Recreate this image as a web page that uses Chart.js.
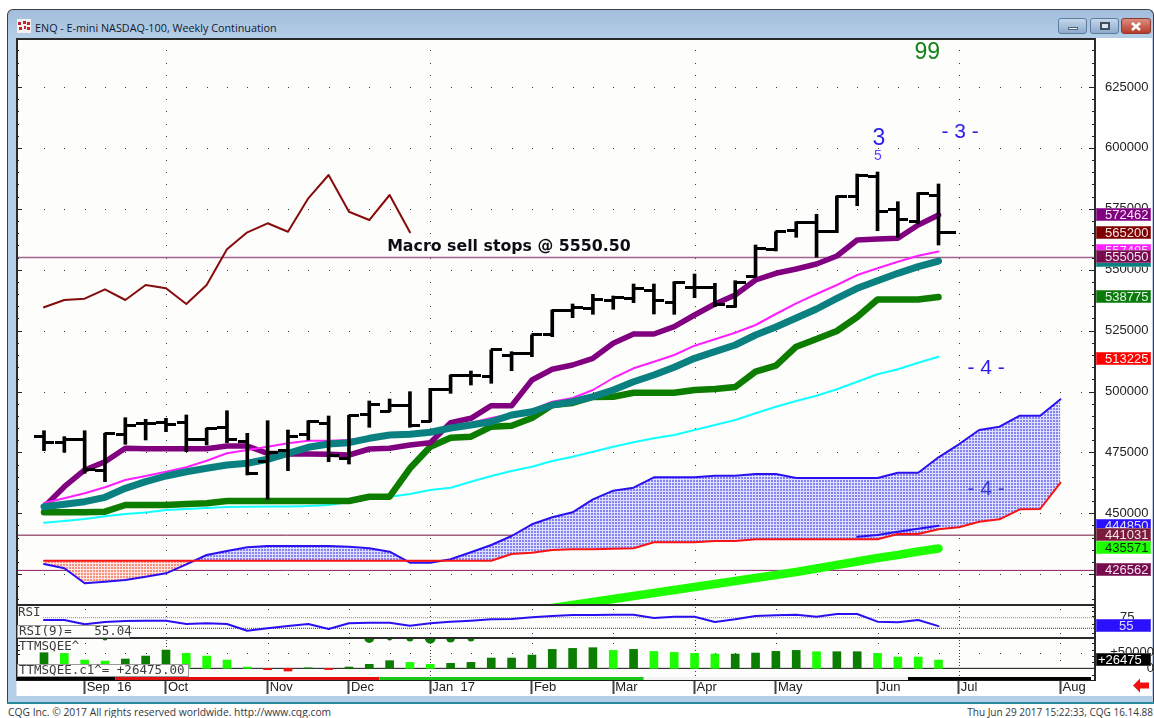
<!DOCTYPE html>
<html>
<head>
<meta charset="utf-8">
<title>ENQ - E-mini NASDAQ-100, Weekly Continuation</title>
<script src="https://cdn.jsdelivr.net/npm/chart.js@4"></script>
<style>
html,body{margin:0;padding:0;width:1154px;height:718px;background:#fff;overflow:hidden}
#frame{position:absolute;left:7px;top:9px;width:1147px;height:693px;box-sizing:border-box;border:1px solid #3a3f44;border-bottom:none;border-radius:6px 6px 0 0;background:linear-gradient(#a2bedb 0,#b6cfe9 30px,#b6cfe9 100%)}
#teal{position:absolute;left:7px;top:702px;width:1147px;height:2px;background:#2b8a9c}
#inner{position:absolute;left:16px;top:38px;width:1135px;height:658px;background:#fff;border-left:1px solid #dfe8f2}
#title{position:absolute;left:35px;top:20px;font:10.8px "Open Sans",sans-serif;color:#14182a;white-space:nowrap}
.btn{position:absolute;top:18px;height:16px;box-sizing:border-box;border:1px solid #5e7c9f;border-radius:3px;background:linear-gradient(#c4d6ea,#8eabcb)}
.foot{position:absolute;top:705px;color:#33383e;white-space:nowrap}
canvas{position:absolute;left:0;top:0}
</style>
</head>
<body>
<div id="frame"></div>
<div id="inner"></div>
<div id="teal"></div>
<svg style="position:absolute;left:17px;top:19px" width="14" height="14"><rect width="14" height="14" fill="#f4f0f0"/><g fill="#c3232b"><rect x="1" y="3" width="3" height="3"/><rect x="6" y="2" width="3" height="3"/><rect x="10" y="3" width="3" height="3"/><rect x="2" y="8" width="3" height="3"/><rect x="7" y="7" width="2" height="3"/><rect x="10" y="8" width="3" height="3"/></g></svg>
<div id="title">ENQ - E-mini NASDAQ-100, Weekly Continuation</div>
<div class="btn" style="left:1058px;width:29px"><div style="position:absolute;left:9px;top:8px;width:10px;height:3px;background:#eef3f8;border:1px solid #50647c;box-sizing:border-box"></div></div>
<div class="btn" style="left:1090px;width:29px"><div style="position:absolute;left:9px;top:3px;width:10px;height:8px;border:2px solid #3f4e60;box-sizing:border-box;background:#dbe6f1"></div></div>
<div class="btn" style="left:1121px;width:30px;border-color:#8a3a30;background:linear-gradient(#dd8d80,#b63b2a)"><svg width="28" height="14" style="position:absolute;left:0;top:0"><path d="M10 4L18 11M18 4L10 11" stroke="#fff" stroke-width="2.6"/></svg></div>
<svg style="position:absolute;left:1133px;top:678px;z-index:3" width="18" height="15"><path d="M0 7.5L7 0.5V4.5H16V10.5H7V14.5Z" fill="#f01010"/></svg>
<div class="foot" style="left:8px;font:10.3px 'Open Sans',sans-serif">CQG Inc. © 2017 All rights reserved worldwide. http://www.cqg.com</div>
<div class="foot" style="right:1px;font:10px 'Open Sans',sans-serif">Thu Jun 29 2017 15:22:33, CQG 16.14.88</div>
<canvas id="c" width="1154" height="718"></canvas>
<script>
// ---------- data ----------
const weekIndex = [0,1,2,3,4,5,6,7,8,9,10,11,12,13,14,15,16,17,18,19,20,21,22,23,24,25,26,27,28,29,30,31,32,33,34,35,36,37,38,39,40,41,42,43,44,45,46,47,48,49,50];
const monthTickIndex = [2,6,11,15,19,24,28,32,36,41,45,50];
const monthTickLabels = ['Sep  16','Oct','Nov','Dec','Jan  17','Feb','Mar','Apr','May','Jun','Jul','Aug'];
const priceLabels = [625000,600000,575000,550000,525000,500000,475000,450000];

const highs = [483900,481450,483900,482840,489250,488590,489000,490360,484900,492120,482840,488020,484200,488020,489950,490230,496100,496920,499920,501300,506775,508420,517040,516340,523200,533460,535920,539900,539200,544130,544130,545075,548240,544420,545490,560140,565600,569700,572740,580255,589285,590105,577915,581610,585180];
const lows = [475700,475050,466420,462975,478330,480090,483500,475290,478040,478985,465725,455750,467490,480090,471185,470240,485300,491710,485300,487600,499260,502670,503370,508540,514290,522500,530300,531690,533750,536455,531820,531690,538510,534810,534570,547130,557680,563300,555090,565190,576270,566010,563300,568760,560140];
const opens = [481450,479150,480380,467490,482150,486950,487360,487200,480500,485300,479680,471470,475700,482150,486950,472580,490360,491710,494460,487600,500620,506490,506365,514985,515680,523200,533050,534160,537560,538260,541260,536620,542780,542780,535100,547415,558375,566010,569460,565600,579970,588180,574510,569700,580665];
const closes = [478985,480380,467780,482840,486250,486950,486540,480500,484900,480500,466140,474880,481735,487600,473935,489950,494870,494460,486250,500900,506775,506490,517040,515680,523200,533170,534570,537850,538510,542370,537560,544830,542780,535920,544665,558500,565600,569295,565600,579970,588875,573810,570690,581360,565200];

const purpleLine = [452590,460920,467780,471185,476690,476520,476520,476520,476520,477630,477630,474630,474350,474350,474220,473935,476400,476690,478040,478985,487200,489000,494170,494170,504725,509115,510880,513630,519790,523605,523605,526600,531405,535920,539615,545775,548520,550290,552340,555625,562190,562600,562890,568350,572462];
const magentaLine = [454230,456160,458215,460675,463675,465315,467080,468885,471595,474630,475990,477345,478740,479805,479805,480090,481325,482145,482555,483790,485555,487200,489125,490765,492410,495815,497335,500620,505545,509525,512235,514985,518805,521430,524140,527300,531815,536210,540025,543720,547825,550575,553285,555750,557485];
const tealLine = [452715,453700,454765,456570,460265,462975,465315,467080,468475,469830,470530,472170,474630,477095,478450,478985,480790,482145,482430,483255,485020,486250,487605,490355,491710,494460,495815,497870,500620,504025,506775,509935,513630,516340,519090,523195,526480,530175,533870,538260,542365,545485,548525,551235,553570];
const greenLine = [450415,450415,450415,450660,453410,453410,453410,453820,454110,455050,455050,455050,455050,455050,455050,455050,456820,456820,468475,477345,481035,481450,485555,485965,489125,494460,495280,497745,497870,499510,499510,499510,500620,501030,501850,508130,510595,518395,521555,524835,530585,537770,537770,537770,538775];
const cyanLine = [446145,446840,447665,448770,449715,450330,451360,451770,452180,452590,452715,452795,452795,453000,453410,454640,456080,456820,457925,459570,460510,462975,465315,467365,469135,471470,473240,475290,477345,479150,480790,482145,484200,486250,488305,491050,493760,496100,498280,500905,504025,507060,509115,511825,514290];
const darkRedLine = [534570,537560,538100,541950,537560,543720,542370,535920,543720,558375,565350,569050,565600,579310,588875,573810,570400,580665,565350];
const limeLine = [411130,412360,413590,414820,416050,417280,418510,419740,420970,422200,423440,424670,425900,427340,428780,430210,431650,432880,434320,435571];
const limeStart = 25;
const cloudUpper = [429190,427425,421270,421925,422625,423980,425375,429070,432885,434530,436045,436580,436580,436580,436580,436290,435635,434240,429725,429725,431120,433995,436990,440685,445490,448360,450415,455750,459280,460510,464780,464780,464780,465440,465440,466135,466135,464495,464495,464495,464495,464495,466670,466670,472990,478330,484200,485555,490070,490070,496800];
const cloudLower = [430545,430545,430545,430545,430545,430545,430545,430545,430545,430545,430545,430545,430545,430545,430545,430545,430545,430545,430545,430545,430545,430545,430545,433295,433830,434940,435225,435225,435470,435635,438100,438100,438100,438630,438630,439330,439330,439330,439330,439330,439330,439330,441505,441505,443435,444255,446555,447540,451645,451770,462565];
const laggingBlue = [440400,441095,442450,443680,444850];
const laggingStart = 40;
const stopLevels = [555050,441031,426562];

const rsiValues = [69.6,69.6,59.4,64.9,67.2,67.9,67.9,60.1,61.8,60.1,44.3,50,55.4,60.1,48.4,61.8,63.2,63.2,56.1,61.8,65.6,67.9,71.2,71.9,75.9,79,81.4,81.4,82.1,82.1,74.3,77.4,77.4,64.9,71.2,79,80.7,82.1,77.4,83.7,83.7,65.6,64.2,69.6,55.04];
const rsiLevels = [75,50];

const ttmValues = [50000,47900,26600,23400,29800,39300,58500,47900,39300,26600,4250,-4300,-8500,1600,-4000,4250,12800,24500,19100,12800,16000,19100,33000,33000,42500,60600,63800,66000,57400,60600,54200,51000,47900,45700,45700,48900,54200,57400,53200,53200,53200,47900,36200,36200,26475];
const ttmShades = ['d','l','l','l','d','d','d','l','l','l','l','r','r','d','r','d','d','d','l','l','d','d','d','d','d','d','d','d','l','d','l','l','l','l','d','d','d','d','l','d','d','l','l','l','l'];
const squeezeIndex = [2,3,16,17,18,19,20,21];
const squeezeSize = [1,2.5,5,2.5,3.5,5.5,4.5,3.5];
const stripStates = [[-1.33,3.5,'#000000'],[3.5,16.5,'#e01010'],[16.5,29.5,'#1cc81c'],[29.5,42.5,'#f4f4f4'],[42.5,51.5,'#000000']];

const priceTags = [
  ['444850',444850,'#2a10ff','#dfe0ff'],['441031',441031,'#7a1a3c','#f2e6e6'],['435571',435571,'#1dff00','#0a2a0a'],
  ['426562',426562,'#780a50','#f2e6ee'],['513225',513225,'#ff0000','#ffeeee'],['538775',538775,'#0a7a0a','#e8f5e8'],
  ['557485',557485,'#ff20ff','#ffe8ff'],['',553570,'#0a8080','#e8f5f5'],['555050',555050,'#780a50','#f2e6ee'],
  ['565200',565200,'#800000','#f5e6e6'],['572462',572462,'#800080','#f5e6f5']
];

// ---------- helpers ----------
const pts = (arr, start) => arr.map((v, i) => ({x: weekIndex[i + (start || 0)], y: v}));
const xMin = -1.328, xMax = 51.697;
const flat = (v, from) => [{x: from === undefined ? xMin : from, y: v}, {x: xMax, y: v}];

function tick(left, len) {
  const c = document.createElement('canvas');
  c.width = len * 2 + 1; c.height = 3;
  const g = c.getContext('2d');
  g.fillStyle = '#000';
  if (left) g.fillRect(0, 0, len + 1, 3); else g.fillRect(len, 0, len + 1, 3);
  return c;
}
const openTick = tick(true, 9), closeTick = tick(false, 10), lastTick = tick(false, 17);

function hatch(dark, light) {
  const c = document.createElement('canvas');
  c.width = 3; c.height = 3;
  const g = c.getContext('2d');
  g.fillStyle = dark; g.fillRect(0, 0, 3, 3);
  g.fillStyle = light; g.fillRect(2, 0, 1, 3); g.fillRect(0, 2, 3, 1);
  return g.createPattern(c, 'repeat');
}
const blueHatch = hatch('#8684f0', '#dedeff');
const redHatch = hatch('#f6907f', '#ffe6e0');

const lineDs = (label, data, color, width, order, extra) => Object.assign({
  type: 'line', label, data, borderColor: color, borderWidth: width, order,
  pointRadius: 0, tension: 0, fill: false, borderJoinStyle: 'round', borderCapStyle: 'round'
}, extra || {});

const ttmColor = {d: '#0b7d00', l: '#1dff00', r: '#f01010'};

// ---------- plugin: background, dots, frame, tags, text ----------
const decor = {
  id: 'decor',
  beforeDraw(chart) {
    const {ctx, chartArea: a} = chart;
    ctx.save();
    ctx.fillStyle = '#fdfdfb';
    ctx.fillRect(a.left, a.top, a.right - a.left, a.bottom - a.top);
    ctx.restore();
  },
  beforeDatasetsDraw(chart) {
    const {ctx, scales: {x, y, yRsi, yTT}} = chart;
    ctx.save();
    ctx.fillStyle = '#3a3a3a';
    const dot = (px, py) => ctx.fillRect(Math.round(px), Math.round(py), 1, 1);
    priceLabels.concat([425000]).forEach(p => {
      for (let i = 0; i <= 51; i++) dot(x.getPixelForValue(i), y.getPixelForValue(p));
    });
    for (let i = 0; i <= 51; i++) dot(x.getPixelForValue(i), yTT.getPixelForValue(50000));
    monthTickIndex.forEach(m => {
      const px = x.getPixelForValue(m);
      const dense = [6, 19, 32, 45].includes(m);
      for (let p = 640000; p > y.min; p -= 5000) {
        if (dense || p % 25000 === 12500) dot(px, y.getPixelForValue(p));
      }
      const paneDots = dense ? [100,90,80,70,60,40,30] : [95,38];
      paneDots.forEach(v => dot(px, yRsi.getPixelForValue(v)));
      const ttDots = dense ? [90000,80000,70000,60000,40000,30000,20000,10000,-10000,-20000] : [80000,27000];
      ttDots.forEach(v => dot(px, yTT.getPixelForValue(v)));
    });
    ctx.restore();
  },
  afterDraw(chart) {
    const {ctx, chartArea: a, scales: {x, y, yRsi, yTT}} = chart;
    ctx.save();
    ctx.fillStyle = '#222';
    for (let p = 640000; p > y.min; p -= 5000) {
      const py = Math.round(y.getPixelForValue(p));
      const major = p % 25000 === 0;
      ctx.fillRect(a.right - (major ? 6 : 3), py, major ? 6 : 3, 1);
      ctx.fillRect(a.left, py, major ? 5 : 2, 1);
    }
    [100,90,80,60,40,30].forEach(v => ctx.fillRect(a.right - 3, Math.round(yRsi.getPixelForValue(v)), 3, 1));
    [80000,60000,40000,20000,-20000].forEach(v => ctx.fillRect(a.right - 3, Math.round(yTT.getPixelForValue(v)), 3, 1));
    [75000,60000,45000].forEach(v => ctx.fillRect(a.left, Math.round(yTT.getPixelForValue(v)), 3, 1));
    ctx.fillStyle = '#2a2a2a';
    ctx.fillRect(a.left - 1, a.top - 2, a.right - a.left + 2, 2);
    ctx.fillRect(a.left - 1, a.top - 1, 2, 642);
    ctx.fillRect(a.right - 1, a.top - 1, 2, 642);
    ctx.fillRect(a.left, Math.round(yRsi.top) - 1, a.right - a.left, 2);
    ctx.fillRect(a.left, Math.round(yTT.top) - 1, a.right - a.left, 2);
    stripStates.forEach(s => {
      ctx.fillStyle = s[2];
      const l = Math.max(a.left, x.getPixelForValue(s[0])), r = x.getPixelForValue(s[1]);
      ctx.fillRect(l, 677, r - l, 3);
    });
    ctx.fillStyle = '#1a1a1a';
    ctx.fillRect(a.left, 680, a.right - a.left, 1);
    const box = (l, t, w, h) => {
      ctx.fillStyle = '#fdfdfb'; ctx.fillRect(l, t, w, h);
      ctx.strokeStyle = '#9a9a9a'; ctx.lineWidth = 1; ctx.strokeRect(l + .5, t + .5, w - 1, h - 1);
    };
    box(17, 625, 113, 13);
    box(17, 664, 172, 13);
    ctx.textBaseline = 'middle'; ctx.textAlign = 'left'; ctx.fillStyle = '#3c3c3c';
    ctx.font = '12.5px "DejaVu Sans Mono"';
    ctx.fillText('RSI', 18, 612.5);
    ctx.fillText('RSI(9)=   55.04', 19, 632);
    ctx.fillText('TTMSQEE^', 19, 646.5);
    ctx.fillText('TTMSQEE.c1^= +26475.00', 19, 671);
    const note = (t, wk, price, font, color) => {
      ctx.font = font; ctx.fillStyle = color; ctx.textAlign = 'center';
      ctx.fillText(t, x.getPixelForValue(wk), y.getPixelForValue(price));
    };
    note('Macro sell stops @ 5550.50', 22.87, 559200, 'bold 15.8px "DejaVu Sans"', '#0c0c14');
    note('99', 43.45, 639000, '23px "Liberation Sans"', '#12841a');
    note('3', 41.07, 604000, '23px "Liberation Sans"', '#2a1cf0');
    note('5', 41.02, 596800, '14px "Liberation Sans"', '#5a46ff');
    note('- 3 -', 45.06, 606600, '21px "Liberation Sans"', '#2a1cf0');
    note('- 4 -', 46.34, 509500, '21px "Liberation Sans"', '#2a1cf0');
    note('- 4 -', 46.34, 460000, '21px "Liberation Sans"', '#3a38d8');
    ctx.font = '13px "Liberation Sans"'; ctx.textAlign = 'left';
    const tag = (text, py, bg, fg, textX) => {
      const t = Math.round(py) - 7;
      ctx.fillStyle = bg; ctx.fillRect(1096, t, 55, 13);
      ctx.strokeStyle = 'rgba(255,255,255,.25)'; ctx.strokeRect(1096.5, t + .5, 54, 12);
      ctx.fillStyle = fg; ctx.fillText(text, textX || 1105, t + 7);
    };
    priceTags.forEach(p => tag(p[0], y.getPixelForValue(p[1]), p[2], p[3]));
    tag('55', yRsi.getPixelForValue(55.04), '#2a10ff', '#dfe0ff', 1119);
    tag('+26475', yTT.getPixelForValue(26475), '#000000', '#ffffff', 1098);
    ctx.restore();
  }
};

// ---------- chart ----------
const datasets = [
  {type:'line', label:'Open', data: pts(opens), showLine:false, order:0, pointStyle:openTick, pointRadius:3, borderColor:'#000', backgroundColor:'#000'},
  {type:'line', label:'Close', data: pts(closes), showLine:false, order:0, pointRadius:3, borderColor:'#000', backgroundColor:'#000',
    pointStyle: c => c.dataIndex === closes.length - 1 ? lastTick : closeTick},
  {type:'bar', label:'Range', data: highs.map((h, i) => ({x: weekIndex[i], y: [lows[i], h]})), backgroundColor:'#000', barThickness:3, grouped:false, order:1, yAxisID:'y'},
  lineDs('Teal', pts(tealLine), '#0a8080', 7, 2),
  lineDs('Magenta', pts(magentaLine), '#ff20ff', 2, 3),
  lineDs('Purple', pts(purpleLine), '#800080', 5.5, 4),
  lineDs('Green', pts(greenLine), '#0d7d00', 6.5, 5),
  lineDs('Cyan', pts(cyanLine), '#10ffff', 2, 6),
  lineDs('Dark red', pts(darkRedLine), '#840c0c', 2, 7),
  lineDs('Lime', pts(limeLine, limeStart), '#1dff00', 8.5, 8, {clip:0}),
  lineDs('Lagging', pts(laggingBlue, laggingStart), '#2a10f0', 2, 9),
  lineDs('Cloud upper', pts(cloudUpper), '#2a10f0', 2, 11, {fill:{target:'+1', above:blueHatch, below:redHatch}}),
  lineDs('Cloud lower', pts(cloudLower), '#f81414', 2, 10),
  lineDs('Stop 1', flat(stopLevels[0]), '#a2648e', 1.5, 12),
  lineDs('Stop 2', flat(stopLevels[1]), '#6e1038', 1, 12),
  lineDs('Stop 3', flat(stopLevels[2]), '#8c1a64', 1, 12),
  lineDs('RSI', pts(rsiValues), '#2a10f0', 2, 1, {yAxisID:'yRsi'}),
  lineDs('RSI 75', flat(rsiLevels[0], -0.05), '#f06060', 1, 3, {yAxisID:'yRsi', borderDash:[1,1], borderCapStyle:'butt'}),
  lineDs('RSI 50', flat(rsiLevels[1], -0.05), '#333', 1, 3, {yAxisID:'yRsi', borderDash:[1,1], borderCapStyle:'butt'}),
  {type:'bar', label:'TTM', data: pts(ttmValues), yAxisID:'yTT', barThickness:8, grouped:false, order:2,
    backgroundColor: ttmShades.map(s => ttmColor[s])},
  lineDs('Zero', flat(0), '#111', 1, 3, {yAxisID:'yTT'}),
  {type:'line', label:'Squeeze', data: squeezeIndex.map(i => ({x:i, y:97000})), yAxisID:'yTT', showLine:false, clip:0, order:1,
    pointRadius: squeezeSize, pointBackgroundColor:'#0b7d00', pointBorderWidth:0}
];

const sideScale = (weight, stackWeight, min, max, extra) => Object.assign({
  type:'linear', axis:'y', position:'right', stack:'panes', stackWeight, weight, min, max,
  grid:{display:false}, border:{display:false},
  afterFit: s => { s.width = 59; }
}, extra);
const axisFont = {family:'"Liberation Sans"', size:13};

new Chart(document.getElementById('c'), {
  data: {datasets},
  plugins: [decor],
  options: {
    responsive:false, animation:false, devicePixelRatio:1,
    layout:{autoPadding:false, padding:{left:17, top:40, right:0, bottom:22}},
    plugins:{legend:{display:false}, tooltip:{enabled:false}},
    scales:{
      x:{type:'linear', position:'bottom', min:xMin, max:xMax, offset:false,
        grid:{display:true, offset:false, drawOnChartArea:false, drawTicks:true, tickLength:15, tickWidth:2, tickColor:'#444'},
        border:{display:false},
        afterBuildTicks: s => { s.ticks = monthTickIndex.map(v => ({value:v})); },
        afterFit: s => { s.height = 17; },
        ticks:{autoSkip:false, maxRotation:0, minRotation:0, align:'start', labelOffset:2, padding:-14, color:'#222', font:axisFont,
          callback: v => monthTickLabels[monthTickIndex.indexOf(v)]}
      },
      y: sideScale(1, 565, 412361, 644294, {
        afterBuildTicks: s => { s.ticks = priceLabels.map(v => ({value:v})); },
        ticks:{autoSkip:false, padding:2, color:'#222', font:axisFont, callback: v => String(v)}
      }),
      yRsi: sideScale(2, 33, 27, 105, {
        afterBuildTicks: s => { s.ticks = [{value:75}]; },
        ticks:{autoSkip:false, padding:17, color:'#222', font:axisFont, callback: v => String(v)}
      }),
      yTT: sideScale(3, 41, -34000, 97000, {
        afterBuildTicks: s => { s.ticks = [{value:50000},{value:0}]; },
        ticks:{autoSkip:false, padding:-5, crossAlign:'far', color:'#222', font:axisFont, callback: v => v > 0 ? '+' + v : String(v)}
      })
    }
  }
});
</script>
</body>
</html>
